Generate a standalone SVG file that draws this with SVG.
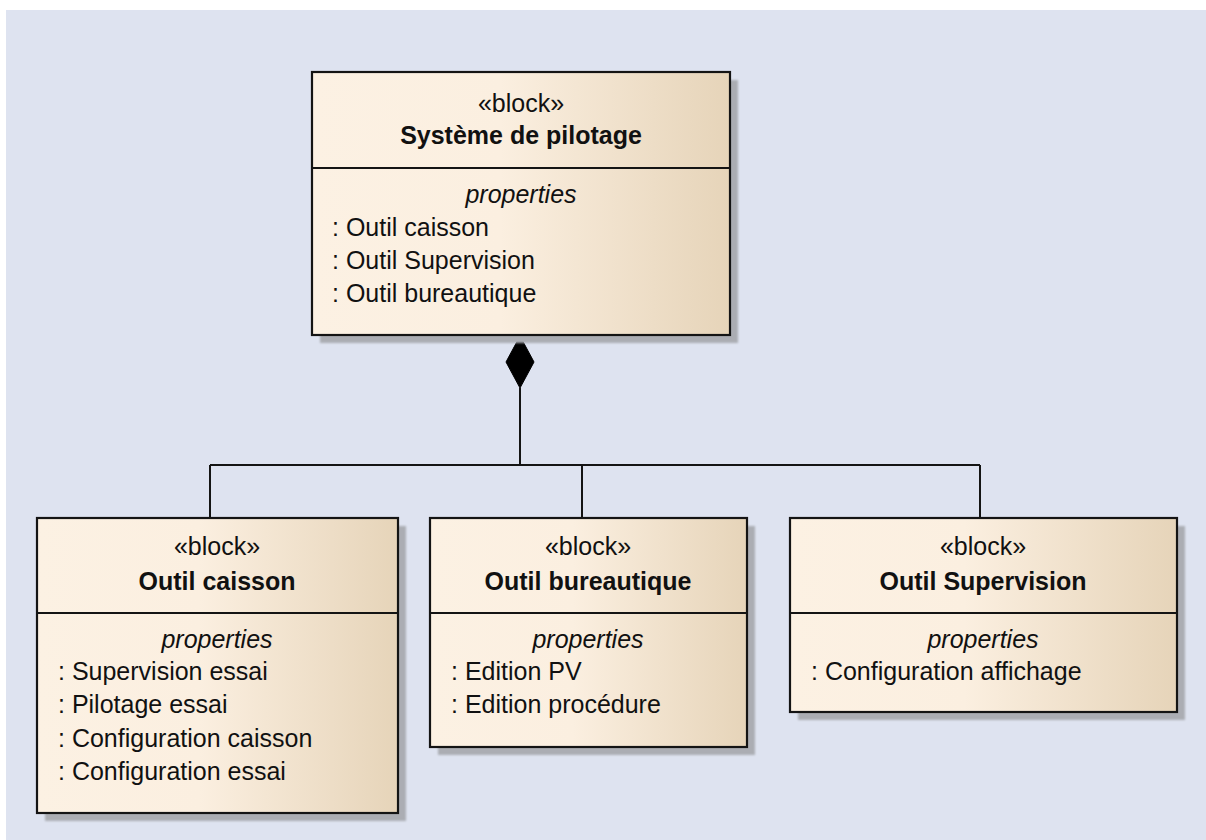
<svg xmlns="http://www.w3.org/2000/svg" width="1206" height="840" viewBox="0 0 1206 840">
  <defs>
    <linearGradient id="fillGrad" x1="0" y1="0" x2="1" y2="0">
      <stop offset="0" stop-color="#FCF1E3"/>
      <stop offset="0.45" stop-color="#FBEFE0"/>
      <stop offset="1" stop-color="#E6D4B9"/>
    </linearGradient>
    <filter id="blur" x="-5%" y="-5%" width="110%" height="110%">
      <feGaussianBlur stdDeviation="0.8"/>
    </filter>
  </defs>
  <style>
    .shadow { fill: #ABADB3; filter: url(#blur); }
    .box { fill: url(#fillGrad); stroke: #141414; stroke-width: 2.2; }
    .sep { stroke: #141414; stroke-width: 2; }
    .conn { stroke: #141414; stroke-width: 2; fill: none; }
    text { font-family: "Liberation Sans", Arial, sans-serif; font-size: 25px; fill: #111; }
    .ster { text-anchor: middle; }
    .name { text-anchor: middle; font-weight: bold; }
    .comp { text-anchor: middle; font-style: italic; }
  </style>
  <rect x="0" y="0" width="1206" height="840" fill="#FFFFFF"/>
  <rect x="6" y="10" width="1200" height="830" fill="#DEE3F0"/>

  <g id="connectors">
    <polygon points="520,336 534,362 520,388 506,362" fill="#000" stroke="#000" stroke-width="1"/>
    <line class="conn" x1="520" y1="388" x2="520" y2="465"/>
    <line class="conn" x1="210" y1="465" x2="980" y2="465"/>
    <line class="conn" x1="210" y1="465" x2="210" y2="518"/>
    <line class="conn" x1="582" y1="465" x2="582" y2="518"/>
    <line class="conn" x1="980" y1="465" x2="980" y2="518"/>
  </g>

  <g id="systeme-de-pilotage">
    <rect class="shadow" x="320" y="80" width="418" height="263"/>
    <rect class="box" x="312" y="72" width="418" height="263"/>
    <line class="sep" x1="312" y1="168" x2="730" y2="168"/>
    <text class="ster" x="521" y="112">«block»</text>
    <text class="name" x="521" y="144">Système de pilotage</text>
    <text class="comp" x="521" y="203">properties</text>
    <text x="332" y="236">: Outil caisson</text>
    <text x="332" y="269">: Outil Supervision</text>
    <text x="332" y="302">: Outil bureautique</text>
  </g>

  <g id="outil-caisson">
    <rect class="shadow" x="45" y="526" width="361" height="295"/>
    <rect class="box" x="37" y="518" width="361" height="295"/>
    <line class="sep" x1="37" y1="613" x2="398" y2="613"/>
    <text class="ster" x="217" y="555">«block»</text>
    <text class="name" x="217" y="590">Outil caisson</text>
    <text class="comp" x="217" y="648">properties</text>
    <text x="58" y="680">: Supervision essai</text>
    <text x="58" y="713">: Pilotage essai</text>
    <text x="58" y="747">: Configuration caisson</text>
    <text x="58" y="780">: Configuration essai</text>
  </g>

  <g id="outil-bureautique">
    <rect class="shadow" x="438" y="526" width="317" height="229"/>
    <rect class="box" x="430" y="518" width="317" height="229"/>
    <line class="sep" x1="430" y1="613" x2="747" y2="613"/>
    <text class="ster" x="588" y="555">«block»</text>
    <text class="name" x="588" y="590">Outil bureautique</text>
    <text class="comp" x="588" y="648">properties</text>
    <text x="451" y="680">: Edition PV</text>
    <text x="451" y="713">: Edition procédure</text>
  </g>

  <g id="outil-supervision">
    <rect class="shadow" x="798" y="526" width="387" height="194"/>
    <rect class="box" x="790" y="518" width="387" height="194"/>
    <line class="sep" x1="790" y1="613" x2="1177" y2="613"/>
    <text class="ster" x="983" y="555">«block»</text>
    <text class="name" x="983" y="590">Outil Supervision</text>
    <text class="comp" x="983" y="648">properties</text>
    <text x="811" y="680">: Configuration affichage</text>
  </g>
</svg>
